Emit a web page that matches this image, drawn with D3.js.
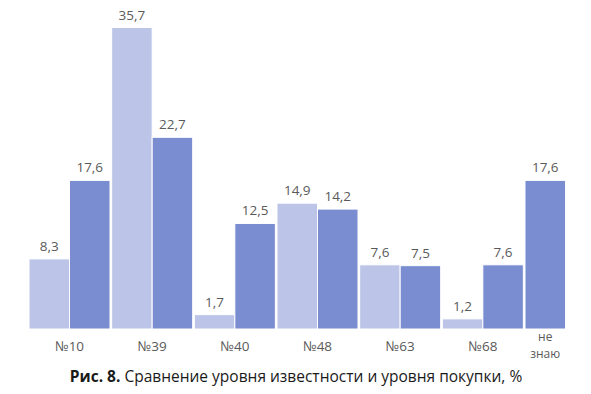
<!DOCTYPE html>
<html>
<head>
<meta charset="utf-8">
<script src="https://cdn.jsdelivr.net/npm/d3@7"></script>
<style>
  body { margin: 0; background: #fff; }
  svg { display: block; font-family: "Open Sans", "Noto Sans", sans-serif; }
</style>
</head>
<body>
<script>
// Categories and series (values in %)
var categories = ["№10", "№39", "№40", "№48", "№63", "№68", "не знаю"];
var awareness  = [8.3, 35.7, 1.7, 14.9, 7.6, 1.2, null];
var purchase   = [17.6, 22.7, 12.5, 14.2, 7.5, 7.6, 17.6];
var seriesColors = ["#bcc5e8", "#798dd0"];
var caption = ["Рис. 8.", " Сравнение уровня известности и уровня покупки, %"];

var width = 591, height = 394;
var baseline = 329;

var svg = d3.select("body").append("svg")
    .attr("width", width)
    .attr("height", height);

var x = d3.scaleBand()
    .domain(categories)
    .range([29, 606])
    .paddingInner(0.02)
    .paddingOuter(0);

var y = d3.scaleLinear()
    .domain([0, 36])
    .range([baseline, 25]);

// build group rows: only bars that have a value, placed left to right
var groups = categories.map(function(c, i) {
    var bars = [awareness[i], purchase[i]]
        .map(function(v, s) { return { cat: c, value: v, series: s }; })
        .filter(function(b) { return b.value != null; });
    return { cat: c, bars: bars };
});

var slot = x.bandwidth() / 2;

var g = svg.selectAll("g.group")
    .data(groups)
    .enter().append("g")
    .attr("class", "group")
    .attr("transform", function(d) { return "translate(" + x(d.cat) + ",0)"; });

g.selectAll("rect")
    .data(function(d) { return d.bars; })
    .enter().append("rect")
    .attr("x", function(d, i) { return i * slot; })
    .attr("y", function(d) { return y(d.value); })
    .attr("width", slot)
    .attr("height", function(d) { return baseline - y(d.value); })
    .attr("fill", function(d) { return seriesColors[d.series]; })
    .attr("stroke", "#fff")
    .attr("stroke-width", 1);

// value labels
g.selectAll("text.val")
    .data(function(d) { return d.bars; })
    .enter().append("text")
    .attr("class", "val")
    .attr("x", function(d, i) { return i * slot + slot / 2; })
    .attr("y", function(d) { return y(d.value) - 8; })
    .attr("text-anchor", "middle")
    .attr("font-size", 13.5)
    .attr("fill", "#5a5a5a")
    .text(function(d) { return String(d.value).replace(".", ","); });

// category labels, centred under the bars present
g.each(function(d) {
    var cx = d.bars.length * slot / 2;
    var words = d.cat.split(" ");
    var two = words.length > 1;
    // "не знаю" is wrapped onto two lines, each its own text
    d3.select(this).selectAll("text.cat")
        .data(two ? words : [d.cat])
        .enter().append("text")
        .attr("class", "cat")
        .attr("x", cx)
        .attr("y", function(w, k) { return two ? 341 + k * 17 : 351; })
        .attr("text-anchor", "middle")
        .attr("font-size", two ? 12 : 13.5)
        .attr("fill", "#5a5a5a")
        .text(function(w) { return w; });
});

// caption
var cap = svg.append("text")
    .attr("x", 296)
    .attr("y", 382)
    .attr("text-anchor", "middle")
    .attr("font-size", 15.5)
    .attr("fill", "#1a1a1a");
cap.append("tspan").attr("font-weight", "bold").text(caption[0]);
cap.append("tspan").text(caption[1]);
</script>
</body>
</html>
